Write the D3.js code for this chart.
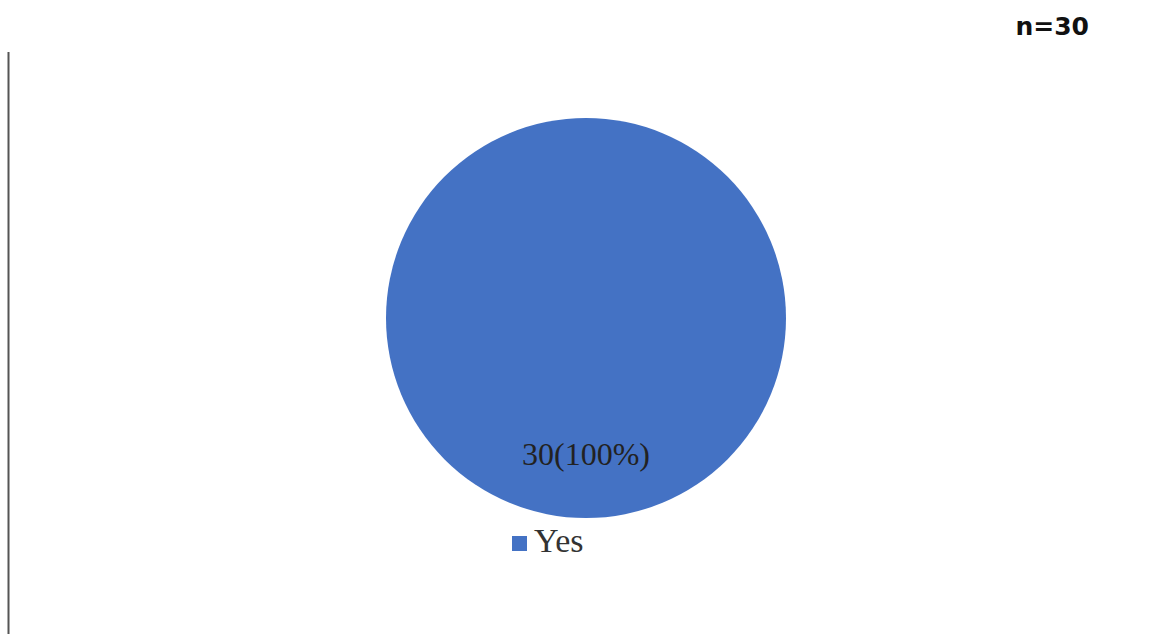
<!DOCTYPE html>
<html>
<head>
<meta charset="utf-8">
<script src="https://cdn.jsdelivr.net/npm/d3@7"></script>
<style>
  html, body { margin: 0; padding: 0; background: #fff; }
  svg { display: block; }
</style>
</head>
<body>
<svg id="chart" width="1156" height="634"></svg>
<script>
// Responses and their counts
const categories = ["Yes"];
const counts = [30];
const sampleLabel = "n=30";
const colors = ["#4472C4"];

const svg = d3.select("#chart");
const W = 1156, H = 634;
const cx = 586, cy = 318, radius = 200;

// left frame rule
svg.append("line")
  .attr("x1", 8.5).attr("x2", 8.5)
  .attr("y1", 52).attr("y2", H)
  .attr("stroke", "#555").attr("stroke-width", 2);

// sample size note
svg.append("text")
  .attr("x", 1089).attr("y", 35)
  .attr("text-anchor", "end")
  .attr("font-family", "DejaVu Sans, Verdana, sans-serif")
  .attr("font-weight", "bold")
  .attr("font-size", 25)
  .attr("fill", "#111")
  .text(sampleLabel);

const total = d3.sum(counts);
const data = categories.map((c, i) => ({ category: c, value: counts[i] }));
const color = d3.scaleOrdinal().domain(categories).range(colors);

const pie = d3.pie().value(d => d.value).sort(null);
const arc = d3.arc().innerRadius(0).outerRadius(radius);
const labelArc = d3.arc().innerRadius(136).outerRadius(136);

const g = svg.append("g").attr("transform", `translate(${cx},${cy})`);
const arcs = pie(data);

g.selectAll("path.slice")
  .data(arcs)
  .join("path")
  .attr("class", "slice")
  .attr("d", arc)
  .attr("fill", d => color(d.data.category));

g.selectAll("text.value")
  .data(arcs)
  .join("text")
  .attr("class", "value")
  .attr("transform", d => `translate(${labelArc.centroid(d)})`)
  .attr("text-anchor", "middle")
  .attr("dy", "0.35em")
  .attr("font-family", "Liberation Serif, Times New Roman, serif")
  .attr("font-size", 32)
  .attr("fill", "#222")
  .text(d => `${d.data.value}(${Math.round(d.data.value / total * 100)}%)`);

// legend
const legend = svg.append("g").attr("transform", "translate(512,536)");
const items = legend.selectAll("g.item")
  .data(categories)
  .join("g")
  .attr("class", "item");
items.append("rect")
  .attr("width", 15).attr("height", 15)
  .attr("fill", d => color(d));
items.append("text")
  .attr("x", 22).attr("y", 16)
  .attr("font-family", "Liberation Serif, Times New Roman, serif")
  .attr("font-size", 34)
  .attr("fill", "#333")
  .text(d => d);
</script>
</body>
</html>
